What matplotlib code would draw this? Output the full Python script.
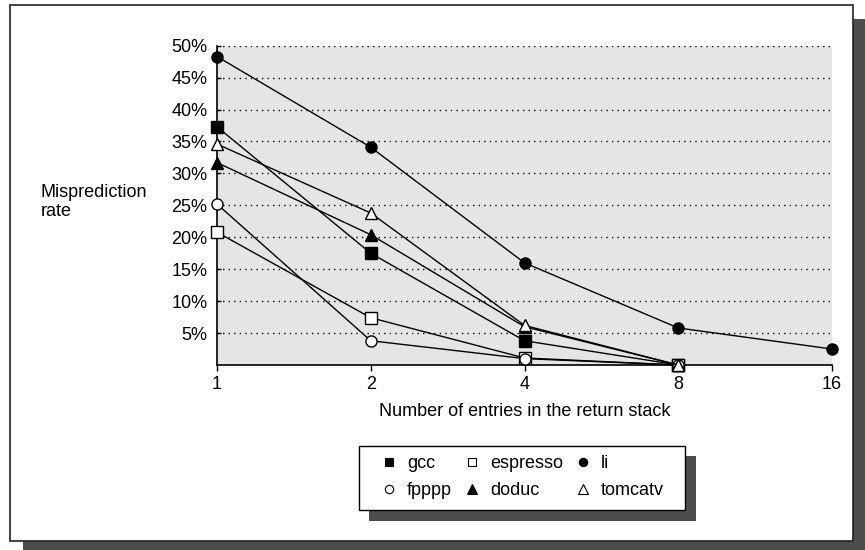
#!/usr/bin/env python3

import matplotlib
import matplotlib.pyplot as plt
from matplotlib.lines import Line2D
from matplotlib.patches import Rectangle
from matplotlib.ticker import FixedLocator, NullLocator

matplotlib.use("Agg")  # Use non-interactive backend

plt.rcParams["font.family"] = ["Liberation Sans", "DejaVu Sans"]

W, H = 865, 550
FS = 13

entries = [1, 2, 4, 8, 16]
gcc = [37.3, 17.5, 3.8, 0.0]
espresso = [20.8, 7.4, 1.1, 0.0]
li = [48.3, 34.1, 16.0, 5.8, 2.5]
fpppp = [25.2, 3.8, 1.0, 0.0]
doduc = [31.7, 20.4, 6.0, 0.0]
tomcatv = [34.6, 23.8, 6.2, 0.0]

y_ticks = [5, 10, 15, 20, 25, 30, 35, 40, 45, 50]
y_ticklabels = [f"{v}%" for v in y_ticks]

series = [
    ("gcc", gcc, "s", "black"),
    ("espresso", espresso, "s", "white"),
    ("li", li, "o", "black"),
    ("fpppp", fpppp, "o", "white"),
    ("doduc", doduc, "^", "black"),
    ("tomcatv", tomcatv, "^", "white"),
]


def px(x0, y0, x1, y1):
    """Pixel box (top-left origin) -> figure fraction rect."""
    return (x0 / W, 1 - y1 / H, (x1 - x0) / W, (y1 - y0) / H)


def add_box(fig, box, zorder, shadow=None, **kw):
    l, b, w, h = px(*box)
    fig.patches.append(Rectangle((l, b), w, h, transform=fig.transFigure,
                                 zorder=zorder, **kw))


fig = plt.figure(figsize=(W / 100, H / 100), dpi=100)

# outer frame with drop shadow
add_box(fig, (23, 19, 866, 551), -3, facecolor="#4d4d4d", edgecolor="none")
add_box(fig, (10, 5, 853, 541), -2, facecolor="white", edgecolor="#222222", lw=1.2)

ax = fig.add_axes(px(217, 45.7, 832, 365))
ax.set_facecolor("#e5e5e5")
ax.set_xscale("log", base=2)
ax.set_xlim(1, 16)
ax.set_ylim(0, 50)
ax.xaxis.set_major_locator(FixedLocator(entries))
ax.xaxis.set_minor_locator(NullLocator())
ax.set_xticklabels([str(e) for e in entries])
ax.set_yticks(y_ticks)
ax.set_yticklabels(y_ticklabels)
ax.tick_params(axis="x", direction="out", length=4, width=1, pad=4, labelsize=FS)
ax.tick_params(axis="y", direction="in", length=3, width=1, pad=7, labelsize=FS)
ax.grid(axis="y", color="black", linestyle=(0, (1, 3)), linewidth=1)
for side in ("top", "right"):
    ax.spines[side].set_visible(False)
for side in ("left", "bottom"):
    ax.spines[side].set_linewidth(1.2)

for name, vals, marker, face in series:
    ax.plot(entries[:len(vals)], vals, color="black", lw=1, marker=marker,
            markersize=8 if marker != "^" else 9, markerfacecolor=face,
            markeredgecolor="black", markeredgewidth=1, clip_on=False, zorder=3)

ax.set_xlabel("Number of entries in the return stack", fontsize=FS, labelpad=7)
fig.text(41 / W, 1 - 202 / H, "Misprediction\nrate", fontsize=FS,
         ha="left", va="center", linespacing=1.15)

# legend box with shadow
add_box(fig, (369, 456, 696, 521), 5, facecolor="#4d4d4d", edgecolor="none")
add_box(fig, (359, 445.7, 685, 510), 6, facecolor="white", edgecolor="black", lw=1)

handles = {}
for name, vals, marker, face in series:
    handles[name] = Line2D([], [], linestyle="none", marker=marker,
                           markersize=7 if marker == "^" else 6,
                           markerfacecolor=face, markeredgecolor="black",
                           markeredgewidth=0.8)
order = ["gcc", "fpppp", "espresso", "doduc", "li", "tomcatv"]
leg = fig.legend([handles[n] for n in order], order, ncol=3, frameon=False,
                 loc="center", bbox_to_anchor=((359 + 685) / 2 / W, 1 - 477 / H),
                 fontsize=FS, handlelength=1.0, handletextpad=0.5,
                 columnspacing=0.6, labelspacing=0.55)
leg.set_zorder(7)

fig.savefig("out.png", dpi=100)
